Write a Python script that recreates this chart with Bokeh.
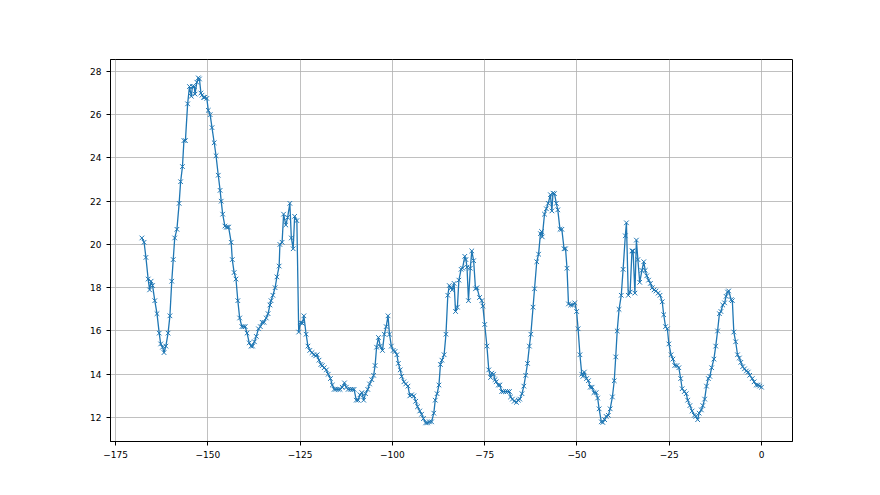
from bokeh.plotting import figure
from bokeh.models import Range1d, FixedTicker
from bokeh.embed import file_html
from bokeh.resources import INLINE

x_hours = [
    -167.9, -167.3, -166.8, -166.2, -165.8, -165.4, -165.0, -164.4, -163.8, -163.2,
    -162.8, -162.3, -161.9, -161.4, -160.8, -160.3, -159.8, -159.4, -159.0, -158.4,
    -157.8, -157.4, -156.9, -156.5, -156.1, -155.5, -155.0, -154.5, -154.2, -153.7,
    -153.5, -153.0, -152.6, -152.3, -151.9, -151.6, -151.2, -150.9, -150.3,
    -149.9, -149.4, -148.9, -148.3, -147.8, -147.2, -146.7, -146.4, -146.0, -145.4,
    -145.0, -144.7, -144.4, -143.7, -143.4, -142.9, -142.4, -141.9, -141.4, -140.8,
    -140.3, -139.9, -139.4, -138.8, -138.3, -137.9, -137.4, -136.9, -136.3, -135.8,
    -135.3, -134.8, -134.2, -133.7, -133.2, -132.9, -132.4, -131.8, -131.3, -130.7,
    -130.5, -129.9, -129.5, -128.9, -128.4, -127.8, -127.4, -126.9, -126.5, -125.9,
    -125.4, -124.9, -124.4, -124.0, -123.4, -122.9, -122.4, -121.8, -121.3, -120.8,
    -120.4, -119.9, -119.4, -119.0, -118.5, -117.9, -117.4, -116.8, -116.3, -115.8,
    -115.3, -114.7, -114.2, -113.6, -113.0, -112.5, -112.0, -111.4, -110.9, -110.4,
    -109.8, -109.3, -108.8, -108.3, -107.8, -107.3, -106.7, -106.2, -105.6, -105.1,
    -104.7, -104.3, -103.8, -103.3, -102.7, -102.2, -101.7, -101.2, -100.8, -100.3,
    -99.8, -99.3, -98.8, -98.4, -97.9, -97.5, -96.9, -96.4, -95.8, -95.3,
    -94.8, -94.2, -93.7, -93.2, -92.6, -92.1, -91.6, -91.0, -90.5, -90.0,
    -89.4, -88.8, -88.4, -87.9, -87.4, -87.0, -86.6, -86.0, -85.5, -85.0,
    -84.6, -84.1, -83.8, -83.3, -82.9, -82.4, -82.0, -81.4, -81.0, -80.4,
    -80.1, -79.8, -79.4, -78.9, -78.5, -78.0, -77.5, -77.1, -76.4, -75.8,
    -75.5, -75.0, -74.4, -73.9, -73.4, -73.1, -72.6, -72.2, -71.9, -71.3,
    -70.9, -70.4, -69.9, -69.3, -68.8, -68.3, -68.0, -67.5, -67.0, -66.4,
    -65.9, -65.5, -64.9, -64.4, -63.9, -63.4, -62.9, -62.5, -61.9, -61.5,
    -60.9, -60.4, -59.9, -59.6, -59.4, -58.8, -58.3, -57.8, -57.2, -56.8,
    -56.5, -56.1, -55.6, -55.2, -54.6, -54.1, -53.5, -53.1, -52.7, -52.3,
    -51.7, -51.2, -50.6, -50.1, -49.7, -49.2, -48.7, -48.4, -48.0, -47.4,
    -46.9, -46.4, -45.9, -45.4, -44.8, -44.4, -44.0, -43.4, -43.0, -42.5,
    -42.1, -41.5, -41.0, -40.4, -39.9, -39.5, -39.1, -38.6, -38.0, -37.5,
    -36.9, -36.6, -36.1, -35.6, -35.1, -34.8, -34.3, -33.9, -33.5, -33.0,
    -32.4, -31.9, -31.5, -31.1, -30.6, -30.1, -29.6, -29.1, -28.6, -28.0,
    -27.5, -26.9, -26.5, -26.0, -25.5, -25.1, -24.5, -24.0, -23.5, -22.9,
    -22.4, -21.9, -21.5, -20.9, -20.4, -20.0, -19.4, -18.8, -18.2, -17.8,
    -17.3, -16.9, -16.3, -15.9, -15.4, -14.9, -14.4, -14.0, -13.5, -12.9,
    -12.4, -11.9, -11.4, -11.0, -10.5, -10.0, -9.6, -9.2, -8.9, -8.2,
    -7.9, -7.5, -7.0, -6.5, -6.0, -5.6, -5.1, -4.6, -4.1, -3.6,
    -3.2, -2.5, -2.0, -1.4, -0.9, -0.5, 0.0,
]

temperature = [
    20.3, 20.1, 19.4, 18.4, 17.9, 18.3, 18.1, 17.4, 16.8, 15.9,
    15.4, 15.25, 15.0, 15.3, 15.9, 16.7, 18.3, 19.3, 20.3, 20.7,
    21.9, 22.9, 23.6, 24.8, 24.8, 26.5, 27.3, 26.85, 27.3, 27.3,
    26.95, 27.5, 27.7, 27.65, 27.0, 26.9, 26.8, 26.8, 26.75,
    26.2, 26.0, 25.4, 24.7, 24.1, 23.2, 22.5, 22.0, 21.4, 20.85,
    20.8, 20.8, 20.8, 20.1, 19.3, 18.7, 18.4, 17.4, 16.6, 16.2,
    16.2, 16.2, 15.9, 15.45, 15.3, 15.3, 15.5, 15.75, 16.1, 16.2,
    16.4, 16.4, 16.6, 16.8, 17.2, 17.4, 17.65, 18.0, 18.5, 19.0,
    20.0, 20.1, 21.4, 20.9, 21.25, 21.9, 20.3, 19.8, 21.3, 21.1,
    15.95, 16.4, 16.35, 16.7, 15.85, 15.3, 15.1, 15.0, 14.9, 14.85,
    14.9, 14.65, 14.45, 14.4, 14.3, 14.2, 14.0, 13.8, 13.5, 13.3,
    13.3, 13.3, 13.3, 13.4, 13.6, 13.4, 13.3, 13.3, 13.3, 13.3,
    12.8, 12.8, 13.05, 13.15, 12.8, 13.1, 13.3, 13.55, 13.75, 13.95,
    14.4, 15.25, 15.7, 15.3, 15.1, 15.85, 16.2, 16.7, 15.85, 15.3,
    15.1, 15.05, 14.9, 14.5, 14.2, 13.9, 13.65, 13.55, 13.45, 13.0,
    13.05, 13.0, 12.75, 12.5, 12.3, 12.15, 11.95, 11.75, 11.75, 11.8,
    11.8, 12.2, 12.8, 13.1, 13.5, 14.45, 14.65, 14.9, 15.85, 17.65,
    18.1, 18.0, 17.9, 18.2, 16.9, 17.1, 18.35, 18.85, 18.9, 19.45,
    19.3, 18.95, 17.4, 18.9, 19.7, 19.25, 17.95, 18.0, 17.55, 17.4,
    17.15, 16.3, 15.3, 14.2, 13.85, 14.05, 14.0, 13.75, 13.65, 13.5,
    13.5, 13.2, 13.2, 13.2, 13.2, 13.2, 12.95, 12.85, 12.75, 12.7,
    12.8, 12.85, 13.1, 13.45, 13.95, 14.5, 15.3, 15.85, 17.1, 17.95,
    19.2, 19.55, 20.5, 20.6, 20.35, 21.4, 21.65, 21.9, 22.3, 21.55,
    22.37, 22.35, 21.9, 21.6, 20.7, 20.7, 19.8, 19.8, 18.9, 17.25,
    17.2, 17.2, 17.3, 16.9, 16.1, 14.9, 14.0, 13.9, 14.1, 13.8,
    13.7, 13.4, 13.4, 13.15, 13.15, 12.9, 12.4, 11.8, 11.77, 11.9,
    12.05, 12.1, 12.4, 12.95, 13.7, 14.8, 16.0, 17.0, 17.65, 18.85,
    20.4, 21.0, 17.65, 17.8, 19.7, 19.7, 17.75, 20.2, 19.3, 18.25,
    18.8, 19.2, 18.8, 18.55, 18.35, 18.2, 18.0, 17.9, 17.85, 17.75,
    17.65, 17.35, 16.75, 16.2, 16.1, 15.4, 14.9, 14.7, 14.4, 14.4,
    14.3, 13.8, 13.33, 13.2, 13.1, 12.8, 12.55, 12.3, 12.1, 12.05,
    11.9, 12.2, 12.35, 12.55, 12.85, 13.45, 13.8, 13.9, 14.3, 14.7,
    15.3, 16.0, 16.8, 16.9, 17.2, 17.3, 17.6, 17.8, 17.85, 17.45,
    17.4, 15.95, 15.5, 14.9, 14.75, 14.55, 14.35, 14.25, 14.15, 14.1,
    13.95, 13.8, 13.65, 13.5, 13.5, 13.45, 13.4, 13.3,
]

x_ticks = [-175, -150, -125, -100, -75, -50, -25, 0]
y_ticks = [12, 14, 16, 18, 20, 22, 24, 26, 28]

n = min(len(x_hours), len(temperature))
xs = x_hours[:n]
ys = temperature[:n]

p = figure(width=872, height=487, output_backend="svg", toolbar_location=None,
           x_range=Range1d(-176.4, 8.4), y_range=Range1d(10.89, 28.55),
           min_border_left=110, min_border_right=80, min_border_top=59,
           min_border_bottom=46)

color = "#1f77b4"
p.line(xs, ys, line_color=color, line_width=1.3)
p.scatter(xs, ys, marker="x", size=6.5, line_color=color, line_width=1)

p.xaxis.ticker = FixedTicker(ticks=x_ticks)
p.yaxis.ticker = FixedTicker(ticks=y_ticks)
p.xaxis.major_label_overrides = {t: (str(t).replace("-", "\u2212")) for t in x_ticks}
p.yaxis.major_label_overrides = {t: str(t) for t in y_ticks}

for ax in (p.xaxis, p.yaxis):
    ax.minor_tick_line_color = None
    ax.major_tick_in = 0
    ax.major_tick_out = 4
    ax.major_tick_line_color = "black"
    ax.axis_line_color = "black"
    ax.major_label_text_font = "DejaVu Sans"
    ax.major_label_text_font_size = "9px"
    ax.major_label_text_color = "black"

p.xgrid.ticker = FixedTicker(ticks=x_ticks)
p.ygrid.ticker = FixedTicker(ticks=y_ticks)
p.grid.grid_line_color = "#b0b0b0"
p.grid.grid_line_width = 0.8

p.outline_line_color = "black"
p.outline_line_width = 1
p.outline_line_alpha = 1
p.background_fill_color = "white"
p.border_fill_color = "white"

open("out.html", "w").write(file_html(p, INLINE))
